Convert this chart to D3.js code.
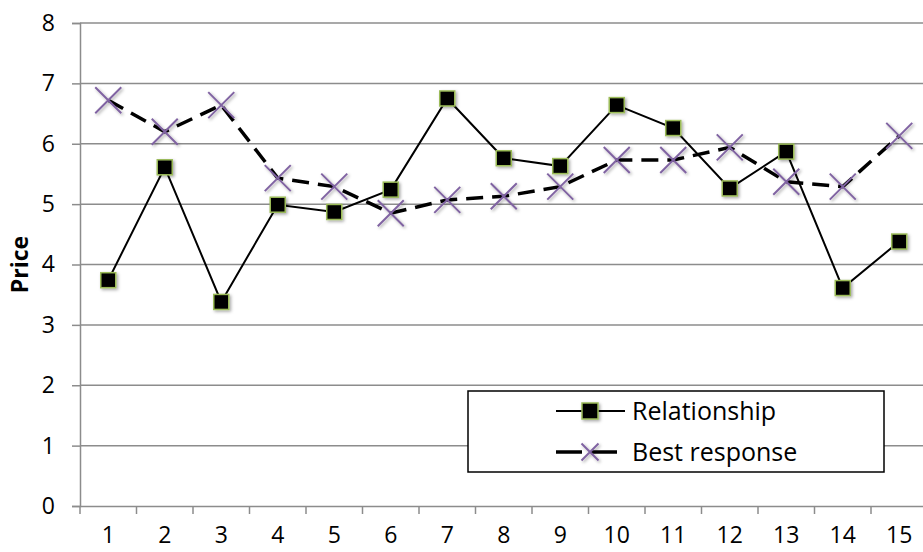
<!DOCTYPE html>
<html><head><meta charset="utf-8">
<script src="https://cdn.jsdelivr.net/npm/d3@7"></script>
<style>body{margin:0;background:#fff;}svg{display:block;}</style>
</head><body>
<svg id="c" width="923" height="552"></svg>
<script>
const categories = [1,2,3,4,5,6,7,8,9,10,11,12,13,14,15];
const relationship = [3.74,5.61,3.38,4.99,4.87,5.24,6.75,5.76,5.63,6.64,6.26,5.26,5.87,3.61,4.38];
const bestResponse = [6.72,6.20,6.64,5.43,5.29,4.85,5.07,5.13,5.29,5.73,5.73,5.94,5.37,5.29,6.13];
const yTicks = [0,1,2,3,4,5,6,7,8];
const seriesNames = ["Relationship","Best response"];

const svg = d3.select("#c");
const L = 80, R = 927.5, T = 23, B = 506;
const font = "'Open Sans', Lato, sans-serif";

const x = d3.scaleBand().domain(categories).range([L, R]);
const y = d3.scaleLinear().domain([0, 8]).range([B, T]);

const defs = svg.append("defs");
const f = defs.append("filter").attr("id","sh").attr("x","-50%").attr("y","-50%").attr("width","200%").attr("height","200%");
f.append("feDropShadow").attr("dx",1.5).attr("dy",1.5).attr("stdDeviation",1.5).attr("flood-color","#000").attr("flood-opacity",0.35);

// gridlines
svg.append("g").selectAll("line").data(yTicks.slice(1)).join("line")
  .attr("x1", L).attr("x2", 923).attr("y1", d => y(d)).attr("y2", d => y(d))
  .attr("stroke", "#8c8c8c").attr("stroke-width", 1.5);

// y axis
const ya = svg.append("g").attr("transform", `translate(${L},0)`)
  .call(d3.axisLeft(y).tickValues(yTicks).tickSize(8).tickPadding(17).tickFormat(d3.format("d")));
ya.select(".domain").attr("stroke","#8c8c8c").attr("stroke-width",1.5);
ya.selectAll(".tick line").attr("stroke","#8c8c8c").attr("stroke-width",1.5);
ya.selectAll("text").attr("font-family", font).attr("font-size", 23).attr("fill","#000");

// x axis
const xa = svg.append("g").attr("transform", `translate(0,${B})`)
  .call(d3.axisBottom(x).tickSize(0).tickPadding(21));
xa.select(".domain").attr("stroke","#8c8c8c").attr("stroke-width",1.5);
xa.selectAll("text").attr("font-family", font).attr("font-size", 23).attr("fill","#000");
// boundary ticks
svg.append("g").selectAll("line").data(d3.range(categories.length + 1)).join("line")
  .attr("x1", i => L + i * x.step()).attr("x2", i => L + i * x.step())
  .attr("y1", B).attr("y2", B + 8)
  .attr("stroke", "#8c8c8c").attr("stroke-width", 1.5);

// y label
svg.append("text").attr("transform", `translate(28,${(T+B)/2}) rotate(-90)`)
  .attr("text-anchor","middle").attr("font-family", font).attr("font-weight","bold")
  .attr("font-size", 23).text("Price");

const cx = d => x(d) + x.bandwidth()/2;
const line = d3.line();

// relationship line
svg.append("path")
  .attr("d", line(categories.map((c,i) => [cx(c), y(relationship[i])])))
  .attr("fill","none").attr("stroke","#000").attr("stroke-width",2);
// best response line
svg.append("path")
  .attr("d", line(categories.map((c,i) => [cx(c), y(bestResponse[i])])))
  .attr("fill","none").attr("stroke","#000").attr("stroke-width",3.5)
  .attr("stroke-dasharray","17,9");

function square(g, px, py, h){
  g.append("rect").attr("x", px-h).attr("y", py-h).attr("width",2*h).attr("height",2*h)
   .attr("fill","#000").attr("stroke","#9bbb59").attr("stroke-width",1.5).attr("filter","url(#sh)");
}
function cross(g, px, py, s){
  g.append("path").attr("d", `M${px-s},${py-s}L${px+s},${py+s}M${px-s},${py+s}L${px+s},${py-s}`)
   .attr("stroke","#8064a2").attr("stroke-width",2).attr("fill","none").attr("filter","url(#sh)");
}
const mg = svg.append("g");
categories.forEach((c,i) => square(mg, cx(c), y(relationship[i]), 7.5));
categories.forEach((c,i) => cross(mg, cx(c), y(bestResponse[i]), 13));

// legend
const lg = svg.append("g");
lg.append("rect").attr("x",468).attr("y",391).attr("width",416).attr("height",81)
  .attr("fill","#fff").attr("stroke","#000").attr("stroke-width",1.5);
const rows = [411, 452];
lg.append("line").attr("x1",556).attr("x2",625).attr("y1",rows[0]).attr("y2",rows[0]).attr("stroke","#000").attr("stroke-width",2);
square(lg, 590, rows[0], 8);
lg.append("line").attr("x1",556).attr("x2",625).attr("y1",rows[1]).attr("y2",rows[1]).attr("stroke","#000").attr("stroke-width",3.5).attr("stroke-dasharray","26,9");
cross(lg, 590, rows[1], 8.5);
seriesNames.forEach((n,i) => lg.append("text").attr("x",632).attr("y",rows[i]).attr("dy","0.36em")
  .attr("font-family", font).attr("font-size",25).attr("fill","#000").text(n));
</script>
</body></html>
